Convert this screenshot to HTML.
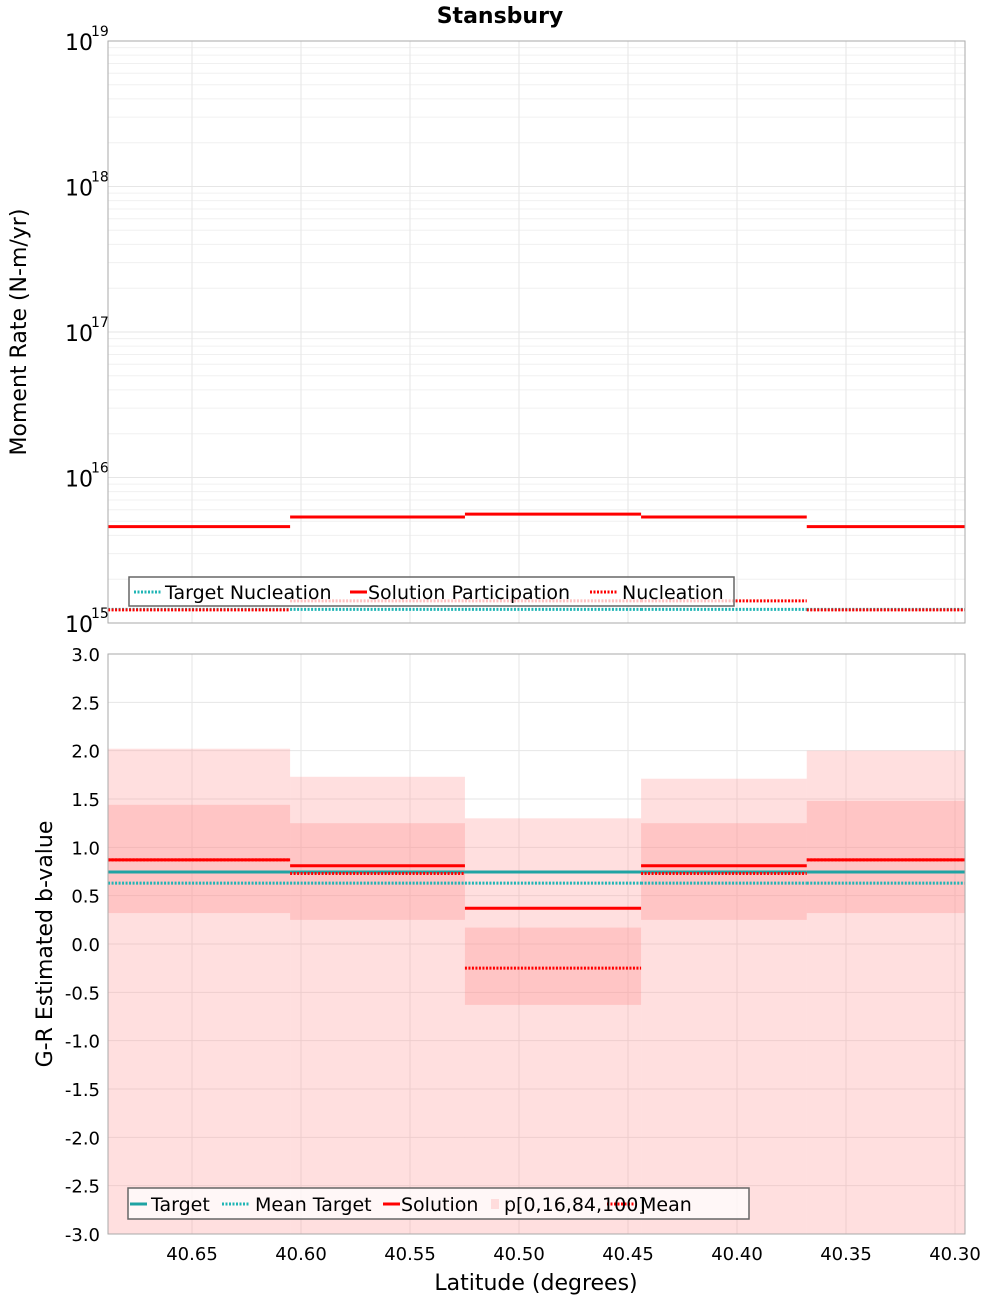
<!DOCTYPE html>
<html><head><meta charset="utf-8"><style>
body{margin:0;background:#fff;}
svg{display:block;font-family:"DejaVu Sans","Liberation Sans",sans-serif;}
</style></head><body>
<svg id="c" width="1000" height="1300" viewBox="0 0 1000 1300">
<text x="500" y="23" text-anchor="middle" font-size="22" font-weight="bold">Stansbury</text>
<g id="topg"></g>
<g id="bot"></g>
<text transform="translate(26,332) rotate(-90)" text-anchor="middle" font-size="22">Moment Rate (N-m/yr)</text>
<text transform="translate(52,944) rotate(-90)" text-anchor="middle" font-size="22">G-R Estimated b-value</text>
<text x="536" y="1290" text-anchor="middle" font-size="22">Latitude (degrees)</text>
</svg>
<script>
const binEdges=[40.6885,40.605,40.5248,40.444,40.368,40.2954];
const xTicks=[40.65,40.60,40.55,40.50,40.45,40.40,40.35,40.30];
const topDecades=[15,16,17,18,19];
const solutionParticipation=[4.6e15,5.35e15,5.6e15,5.35e15,4.6e15];
const nucleation=[1.23e15,1.42e15,1.42e15,1.42e15,1.23e15];
const targetNucleation=[1.24e15,1.24e15,1.24e15,1.24e15,1.24e15];
const bTicks=[3,2.5,2,1.5,1,0.5,0,-0.5,-1,-1.5,-2,-2.5,-3];
const bSolution=[0.87,0.81,0.37,0.81,0.87];
const bMean=[0.87,0.73,-0.25,0.73,0.87];
const bTarget=[0.745,0.745,0.745,0.745,0.745];
const bMeanTarget=[0.63,0.63,0.63,0.63,0.63];
const bP0=[-3,-3,-3,-3,-3];
const bP16=[0.32,0.25,-0.63,0.25,0.32];
const bP84=[1.44,1.25,0.17,1.25,1.48];
const bP100=[2.02,1.73,1.30,1.71,2.0];

const NS='http://www.w3.org/2000/svg';
const L=108,R=965;
const xs=v=>192+(40.65-v)/0.05*109;
const yT=v=>623-(Math.log10(v)-15)*145.5;
const yB=v=>654+(3-v)*96.67;
function el(p,t,a){const e=document.createElementNS(NS,t);for(const k in a)e.setAttribute(k,a[k]);p.appendChild(e);return e;}
const topG=document.getElementById('topg'),bot=document.getElementById('bot');

for(let d=15;d<19;d++){for(let m=2;m<=10;m++){const y=yT(m*Math.pow(10,d));
const g=el(topG,'line',{x1:L,x2:R,y1:y,y2:y,stroke:m==10?'#e6e6e6':'#f0f0f0','stroke-width':1});

}}
xTicks.forEach(t=>{const x=xs(t);
const g=el(topG,'line',{x1:x,x2:x,y1:41,y2:623,stroke:'#e6e6e6'});


const g2=el(bot,'line',{x1:x,x2:x,y1:654,y2:1234,stroke:'#e6e6e6'});


const tl=el(bot,'text',{x:x,y:1260,'text-anchor':'middle','font-size':18});tl.textContent=t.toFixed(2);

});
topDecades.forEach(d=>{const y=yT(Math.pow(10,d));
const t=el(topG,'text',{x:93,y:y+9,'text-anchor':'end','font-size':22});t.textContent='10';


const s=el(topG,'text',{x:91,y:y-5,'font-size':14});s.textContent=String(d);

});

function steps(g,arr,ys,color,w,dash,name){arr.forEach((v,i)=>{
const a={x1:xs(binEdges[i]),x2:xs(binEdges[i+1]),y1:ys(v),y2:ys(v),stroke:color,'stroke-width':w};
if(dash)a['stroke-dasharray']=dash;
const l=el(g,'line',a);

});}

steps(topG,targetNucleation,yT,'#1fb5b5',3,'2,1.5','target-nucleation-segment');
steps(topG,nucleation,yT,'#ff0000',3,'2,1.5','nucleation-segment');
steps(topG,solutionParticipation,yT,'#ff0000',3,null,'solution-participation-segment');
const tb=el(topG,'rect',{x:108,y:41,width:857,height:582,fill:'none',stroke:'#aaa'});



const lg=el(topG,'g',{});


el(lg,'rect',{x:129,y:577,width:605,height:29,fill:'rgba(255,255,255,0.75)',stroke:'#666','stroke-width':1.5});
[[134,'#1fb5b5','2,1.5','Target Nucleation',165],[350,'#ff0000',null,'Solution Participation',368],[590,'#ff0000','2,1.5','Nucleation',622]].forEach(e=>{
const a={x1:e[0],x2:e[0]+28,y1:592,y2:592,stroke:e[1],'stroke-width':3};if(e[2])a['stroke-dasharray']=e[2];
if(!e[2])a.x2=e[0]+17;
el(lg,'line',a);const t=el(lg,'text',{x:e[4],y:599,'font-size':19});t.textContent=e[3];});

bTicks.forEach(v=>{const y=yB(v);
const g=el(bot,'line',{x1:L,x2:R,y1:y,y2:y,stroke:'#e6e6e6'});


const t=el(bot,'text',{x:100,y:y+7,'text-anchor':'end','font-size':18});t.textContent=v.toFixed(1);

});
bP0.forEach((v,i)=>{const x1=xs(binEdges[i]),x2=xs(binEdges[i+1]);
const r=el(bot,'rect',{x:x1,width:x2-x1,y:yB(bP100[i]),height:yB(v)-yB(bP100[i]),fill:'rgba(255,150,150,0.3)'});


const r2=el(bot,'rect',{x:x1,width:x2-x1,y:yB(bP84[i]),height:yB(bP16[i])-yB(bP84[i]),fill:'rgba(255,150,150,0.35)'});

});
steps(bot,bMeanTarget,yB,'#1fb5b5',3,'2,1.5','mean-target-segment');
steps(bot,bTarget,yB,'#1fa3a3',3,null,'target-segment');
steps(bot,bMean,yB,'#ff0000',3,'2,1.5','mean-segment');
steps(bot,bSolution,yB,'#ff0000',3,null,'solution-segment');
const bb=el(bot,'rect',{x:108,y:654,width:857,height:580,fill:'none',stroke:'#aaa'});



const lb=el(bot,'g',{});


el(lb,'rect',{x:128,y:1188,width:621,height:31,fill:'rgba(255,255,255,0.75)',stroke:'#666','stroke-width':1.5});
[[130,'#1fa3a3',null,'Target',151],[222,'#1fb5b5','2,1.5','Mean Target',255],[383,'#ff0000',null,'Solution',401],[607,'#ff0000','2,1.5','Mean',640]].forEach(e=>{
const a={x1:e[0],x2:e[0]+(e[2]?28:17),y1:1204,y2:1204,stroke:e[1],'stroke-width':3};if(e[2])a['stroke-dasharray']=e[2];
el(lb,'line',a);const t=el(lb,'text',{x:e[4],y:1211,'font-size':19});t.textContent=e[3];});
el(lb,'rect',{x:491,y:1199,width:8,height:10,fill:'#ffdcdc'});
const pt=el(lb,'text',{x:504,y:1211,'font-size':19});pt.textContent='p[0,16,84,100]';
</script>
</body></html>
